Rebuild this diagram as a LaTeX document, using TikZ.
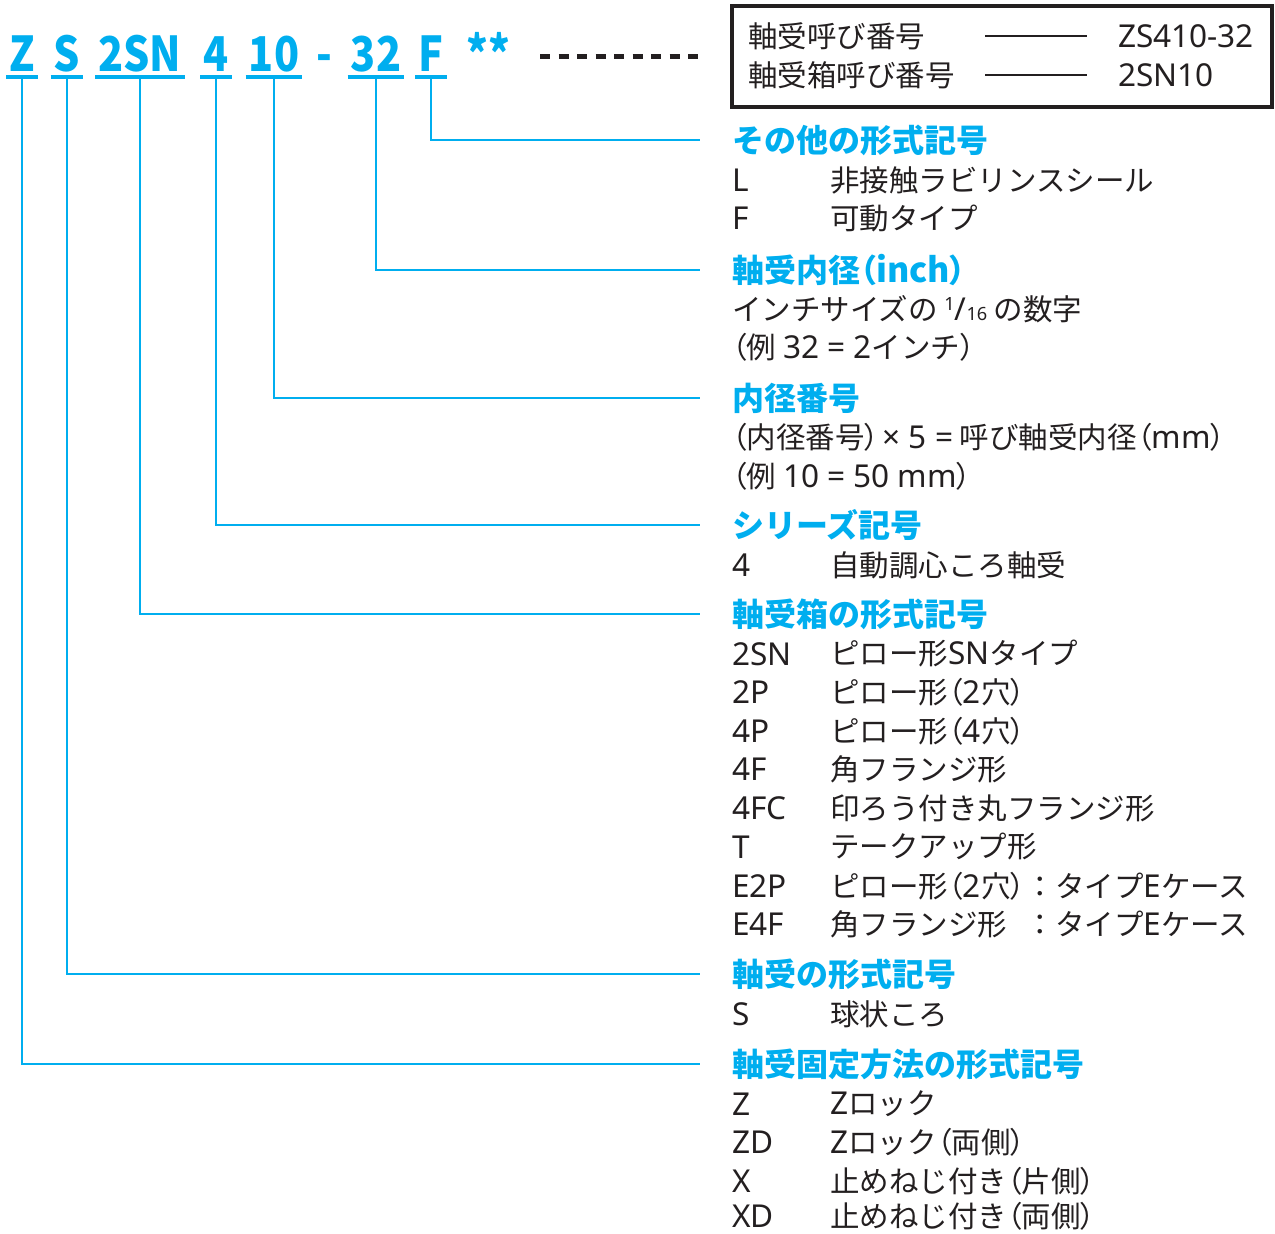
\documentclass[tikz,border=0pt]{standalone}
\usepackage{fontspec}
\setmainfont{Noto Sans CJK JP}
\newfontfamily\jpp{Noto Sans CJK JP}[RawFeature=+palt]
\newfontfamily\lat{Noto Sans}[Scale=1.07]
\newfontfamily\codef{Noto Sans CJK JP}
\usetikzlibrary{calc}
\definecolor{zsblue}{RGB}{0,174,239}
\definecolor{txt}{RGB}{35,31,32}
\newcommand\La[1]{{\lat #1}}
\newcommand\lp{{\jpp （}}
\newcommand\rp{{\jpp ）}}
\newcommand\cd[1]{\scalebox{0.86}[1]{#1}}
\tikzset{
  code/.style={inner sep=0pt, anchor=base, text=zsblue, font=\codef\bfseries\fontsize{48}{48}\selectfont},
  head/.style={inner sep=0pt, anchor=west, text=zsblue, font=\bfseries\fontsize{32}{32}\selectfont},
  body/.style={inner sep=0pt, anchor=west, text=txt, font=\fontsize{29.5}{29.5}\selectfont},
  conn/.style={draw=zsblue, line width=2.5pt},
  uline/.style={draw=zsblue, line width=3.5pt},
}
\begin{document}
\begin{tikzpicture}[x=1pt,y=-1pt]
\useasboundingbox (0,0) rectangle (1275,1234);
% top code
\node[code] (cZ) at (22,71) {\cd{Z}};
\node[code] (cS) at (67,71) {\cd{S}};
\node[code] (cSN) at (140,71) {\cd{2SN}};
\node[code] (c4) at (216,71) {\cd{4}};
\node[code] (c10) at (274,71) {\cd{10}};
\node[code] (cdash) at (324,71) {\cd{-}};
\node[code] (c32) at (376,71) {\cd{32}};
\node[code] (cF) at (431,71) {\cd{F}};
\node[code] (cst) at (488,71) {\cd{**}};
\coordinate (d1) at (540,56);
\coordinate (d2) at (702,56);
\draw[txt, line width=5pt, dash pattern=on 10pt off 8.5pt] (d1) -- (d2);
\foreach \n in {cZ,cS,cSN,c4,c10,c32,cF}{
  \draw[uline] ([xshift=-3pt,yshift=-6pt]\n.base west) -- ([xshift=3pt,yshift=-6pt]\n.base east);
}
% box
\node[draw=txt, line width=3.5pt, minimum width=540pt, minimum height=101pt, inner sep=0pt] (box) at (1002,56.5) {};
\node[body] (b1) at (748,36) {軸受呼び番号};
\node[body] (b2) at (748,75) {軸受箱呼び番号};
\node[body] (v1) at (1118,36) {\La{ZS410-32}};
\node[body] (v2) at (1118,75) {\La{2SN10}};
\draw[txt, line width=1.8pt] ([xshift=-133pt]v1.west) -- ([xshift=-31pt]v1.west);
\draw[txt, line width=1.8pt] ([xshift=-133pt]v2.west) -- ([xshift=-31pt]v2.west);
% headings
\node[head] (h1) at (732,140) {その他の形式記号};
\node[head] (h2) at (732,270) {軸受内径\lp{\fontsize{34}{34}\selectfont inch}\rp};
\node[head] (h3) at (732,398) {内径番号};
\node[head] (h4) at (732,525) {シリーズ記号};
\node[head] (h5) at (732,614) {軸受箱の形式記号};
\node[head] (h6) at (732,974) {軸受の形式記号};
\node[head] (h7) at (732,1064) {軸受固定方法の形式記号};
% connectors
\draw[conn] ([yshift=-6pt]cF.base) |- ([xshift=-32pt]h1.west);
\draw[conn] ([yshift=-6pt]c32.base) |- ([xshift=-32pt]h2.west);
\draw[conn] ([yshift=-6pt]c10.base) |- ([xshift=-32pt]h3.west);
\draw[conn] ([yshift=-6pt]c4.base) |- ([xshift=-32pt]h4.west);
\draw[conn] ([yshift=-6pt]cSN.base) |- ([xshift=-32pt]h5.west);
\draw[conn] ([yshift=-6pt]cS.base) |- ([xshift=-32pt]h6.west);
\draw[conn] ([yshift=-6pt]cZ.base) |- ([xshift=-32pt]h7.west);
% body: その他
\node[body] (k1) at (732,180) {\La{L}};
\node[body] (t1) at (830,180) {非接触ラビリンスシール};
\node[body] (k2) at (732,218) {\La{F}};
\node[body] (t2) at (830,218) {可動タイプ};
% 軸受内径
\node[body] (t3) at (732,309) {インチサイズの {\lat\fontsize{17}{17}\selectfont\raisebox{10pt}{1}}{\lat /}{\lat\fontsize{17}{17}\selectfont 16} の数字};
\node[body] (t4) at (732,347) {\lp 例 \La{32 = 2}インチ\rp};
% 内径番号
\node[body] (t5) at (732,437) {\lp 内径番号\rp\hspace{3pt}\La{× 5 =} 呼び軸受内径\lp\La{mm}\rp};
\node[body] (t6) at (732,476) {\lp 例 \La{10 = 50 mm}\rp};
% シリーズ
\node[body] (k7) at (732,565) {\La{4}};
\node[body] (t7) at (830,565) {自動調心ころ軸受};
% 軸受箱
\node[body] (k8) at (732,654) {\La{2SN}};
\node[body] (t8) at (830,654) {ピロー形\La{SN}タイプ};
\node[body] (k9) at (732,692) {\La{2P}};
\node[body] (t9) at (830,692) {ピロー形\lp\La{2}穴\rp};
\node[body] (k10) at (732,731) {\La{4P}};
\node[body] (t10) at (830,731) {ピロー形\lp\La{4}穴\rp};
\node[body] (k11) at (732,769) {\La{4F}};
\node[body] (t11) at (830,769) {角フランジ形};
\node[body] (k12) at (732,808) {\La{4FC}};
\node[body] (t12) at (830,808) {印ろう付き丸フランジ形};
\node[body] (k13) at (732,847) {\La{T}};
\node[body] (t13) at (830,847) {テークアップ形};
\node[body] (k14) at (732,886) {\La{E2P}};
\node[body] (t14) at (830,886) {ピロー形\lp\La{2}穴\rp};
\node[body, anchor=west] (t14b) at (t14.east) {：タイプ\La{E}ケース};
\node[body] (k15) at (732,924) {\La{E4F}};
\node[body] (t15) at (830,924) {角フランジ形};
\node[body] (t15b) at (t14b.west |- t15.west) {：タイプ\La{E}ケース};
% 軸受の形式
\node[body] (k16) at (732,1014) {\La{S}};
\node[body] (t16) at (830,1014) {球状ころ};
% 固定方法
\node[body] (k17) at (732,1104) {\La{Z}};
\node[body] (t17) at (830,1104) {\La{Z}ロック};
\node[body] (k18) at (732,1142) {\La{ZD}};
\node[body] (t18) at (830,1142) {\La{Z}ロック\lp 両側\rp};
\node[body] (k19) at (732,1181) {\La{X}};
\node[body] (t19) at (830,1181) {止めねじ付き\lp 片側\rp};
\node[body] (k20) at (732,1216) {\La{XD}};
\node[body] (t20) at (830,1216) {止めねじ付き\lp 両側\rp};
\end{tikzpicture}
\end{document}
